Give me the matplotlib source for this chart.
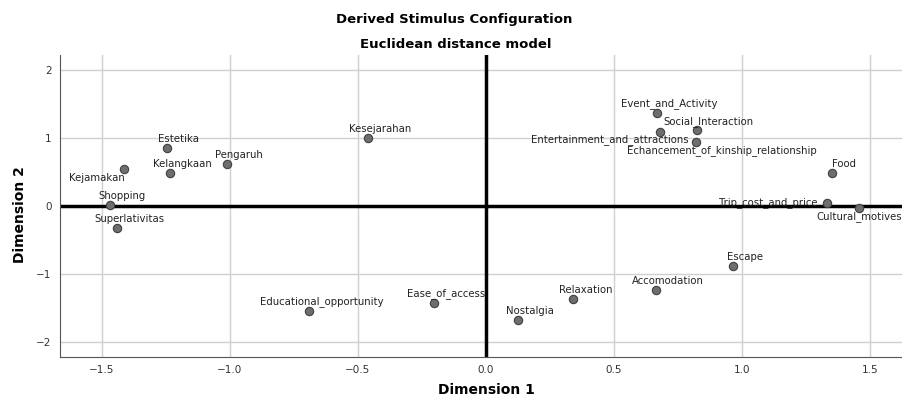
import numpy as np
import matplotlib.pyplot as plt

plt.rcParams['font.family'] = ['DejaVu Sans']

names = ['Estetika', 'Kejamakan', 'Kelangkaan', 'Pengaruh', 'Kesejarahan',
         'Shopping', 'Superlativitas', 'Event_and_Activity', 'Entertainment_and_attractions',
         'Social_Interaction', 'Echancement_of_kinship_relationship', 'Food',
         'Trip_cost_and_price', 'Cultural_motives', 'Educational_opportunity',
         'Ease_of_access', 'Escape', 'Accomodation', 'Relaxation', 'Nostalgia']
dim1 = [-1.247, -1.413, -1.233, -1.012, -0.461, -1.469, -1.440, 0.669, 0.680,
        0.824, 0.819, 1.353, 1.331, 1.457, -0.690, -0.204, 0.965, 0.664, 0.341, 0.124]
dim2 = [0.85, 0.544, 0.48, 0.61, 0.995, 0.02, -0.32, 1.37, 1.09,
        1.11, 0.94, 0.48, 0.044, -0.03, -1.54, -1.42, -0.88, -1.24, -1.37, -1.68]

# label offsets in pixels (default: up and a little right)
offsets = {'Kejamakan': (-27, -9), 'Entertainment_and_attractions': (-50, -8),
           'Echancement_of_kinship_relationship': (26, -9),
           'Trip_cost_and_price': (-58, 0), 'Cultural_motives': (0, -9)}

fig = plt.figure(figsize=(9.02, 3.98), dpi=100)
ax = fig.add_axes([0.0665, 0.103, 0.9335, 0.759])

ax.grid(True, color='#d0d0d0', linewidth=1)
ax.set_axisbelow(True)
ax.axhline(0, color='black', linewidth=2.5, zorder=2)
ax.axvline(0, color='black', linewidth=2.5, zorder=2)

ax.scatter(dim1, dim2, s=36, facecolor='#6e6e6e', edgecolor='#404040',
           linewidth=0.8, zorder=3)

for n, x, y in zip(names, dim1, dim2):
    dx, dy = offsets.get(n, (12, 9))
    ax.annotate(n, (x, y), xytext=(dx, dy), textcoords='offset pixels',
                ha='center', va='center', fontsize=7.3, color='#222222', zorder=4)

ax.set_xlim(-1.664, 1.625)
ax.set_ylim(-2.22, 2.22)
ax.set_xticks([-1.5, -1.0, -0.5, 0.0, 0.5, 1.0, 1.5])
ax.set_yticks([-2, -1, 0, 1, 2])
ax.tick_params(length=0, labelsize=7.5, colors='#333333', pad=6)

for s in ['top', 'right']:
    ax.spines[s].set_visible(False)
for s in ['left', 'bottom']:
    ax.spines[s].set_color('#555555')

ax.set_xlabel('Dimension 1', fontsize=10, fontweight='bold', va='center')
ax.set_ylabel('Dimension 2', fontsize=10, fontweight='bold', va='center')
ax.xaxis.set_label_coords(0.507, -0.109)
ax.yaxis.set_label_coords(-0.0475, 0.47)

fig.text(0.503, 0.95, 'Derived Stimulus Configuration', ha='center', va='center',
         fontsize=9.5, fontweight='bold')
fig.text(0.505, 0.889, 'Euclidean distance model', ha='center', va='center',
         fontsize=9.5, fontweight='bold')

plt.savefig('out.png', dpi=100)
